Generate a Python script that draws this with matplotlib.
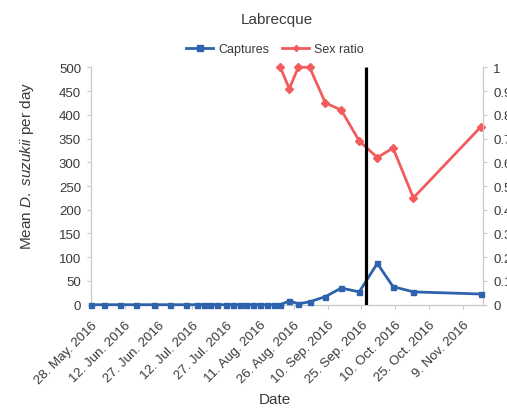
import datetime as dt
import matplotlib
matplotlib.use("Agg")
import matplotlib.pyplot as plt
import matplotlib.dates as mdates
from matplotlib.lines import Line2D

plt.rcParams['font.family'] = ['Liberation Sans', 'DejaVu Sans']
plt.rcParams['mathtext.fontset'] = 'custom'
plt.rcParams['mathtext.rm'] = 'Liberation Sans'
plt.rcParams['mathtext.it'] = 'Liberation Sans:italic'

# Sampling dates (2016)
capture_dates = [
    "2016-05-28", "2016-06-03", "2016-06-10", "2016-06-17", "2016-06-25",
    "2016-07-02", "2016-07-09", "2016-07-14", "2016-07-17", "2016-07-20",
    "2016-07-23", "2016-07-27", "2016-07-30", "2016-08-02", "2016-08-05",
    "2016-08-08", "2016-08-11", "2016-08-14", "2016-08-17", "2016-08-20",
    "2016-08-24", "2016-08-28", "2016-09-02", "2016-09-09", "2016-09-16",
    "2016-09-24", "2016-10-02", "2016-10-09", "2016-10-18", "2016-11-17",
]
# Mean D. suzukii captured per day
captures = [
    0, 0, 0, 0, 0,
    0, 0, 0, 0, 0,
    0, 0, 0, 0, 0,
    0, 0, 0, 0, 0,
    8, 2, 6, 17, 35,
    27, 87, 38, 27, 22.5,
]

ratio_dates = [
    "2016-08-20", "2016-08-24", "2016-08-28", "2016-09-02", "2016-09-09",
    "2016-09-16", "2016-09-24", "2016-10-02", "2016-10-09", "2016-10-18",
    "2016-11-17",
]
sex_ratio = [1.0, 0.91, 1.0, 1.0, 0.85, 0.82, 0.69, 0.62, 0.66, 0.45, 0.75]

tick_dates = [
    "2016-05-28", "2016-06-12", "2016-06-27", "2016-07-12", "2016-07-27",
    "2016-08-11", "2016-08-26", "2016-09-10", "2016-09-25", "2016-10-10",
    "2016-10-25", "2016-11-09",
]
tick_labels = [
    "28. May. 2016", "12. Jun. 2016", "27. Jun. 2016", "12. Jul. 2016",
    "27. Jul. 2016", "11. Aug. 2016", "26. Aug. 2016", "10. Sep. 2016",
    "25. Sep. 2016", "10. Oct. 2016", "25. Oct. 2016", "9. Nov. 2016",
]
event_date = "2016-09-27"
x_range = ["2016-05-28", "2016-11-18"]


def to_num(ds):
    return [mdates.date2num(dt.datetime.strptime(d, "%Y-%m-%d")) for d in ds]


BLUE = "#2f62ad"
RED = "#f25c5f"
GRID = "#c8c8c8"
TXT = "#3a3a3a"

W, H = 507, 410
fig = plt.figure(figsize=(W / 100, H / 100), dpi=100)
left, right, top, bottom = 90.8, 483.3, 68.3, 305.7
ax = fig.add_axes([left / W, 1 - bottom / H, (right - left) / W, (bottom - top) / H])
ax2 = ax.twinx()

ax.plot(to_num(capture_dates), captures, color=BLUE, lw=2, marker="s",
        ms=3.6, zorder=3, clip_on=False)
ax2.plot(to_num(ratio_dates), sex_ratio, color=RED, lw=2, marker="D",
         ms=3.8, zorder=3, clip_on=False)
ev = to_num([event_date])[0]
ax.plot([ev, ev], [0, 500], color="black", lw=2.3, zorder=5, solid_capstyle="butt")
ax.set_zorder(ax2.get_zorder() + 1)
ax.patch.set_visible(False)

xr = to_num(x_range)
ax.set_xlim(xr[0], xr[1])
ax.set_ylim(0, 500)
ax2.set_ylim(0, 1)
ax.set_yticks(range(0, 501, 50))
ax2.set_yticks([i / 10 for i in range(11)])
ax2.set_yticklabels(["0", "0.1", "0.2", "0.3", "0.4", "0.5", "0.6", "0.7",
                     "0.8", "0.9", "1"])
ax.set_xticks(to_num(tick_dates))
ax.set_xticklabels(tick_labels, rotation=45, ha="right", va="top",
                   rotation_mode="anchor")

for a in (ax, ax2):
    for s in a.spines.values():
        s.set_color(GRID)
        s.set_linewidth(0.8)
    a.spines["top"].set_visible(False)
    a.tick_params(colors=GRID, labelcolor=TXT, labelsize=9.5, width=0.8, length=3)
ax.tick_params(axis="x", pad=7)
ax.tick_params(axis="y", pad=4)
ax2.tick_params(axis="y", pad=4)

fig.text(276.5 / W, 1 - 20 / H, "Labrecque", ha="center", va="center",
         fontsize=11, color=TXT)
fig.text(27.5 / W, 1 - 166 / H, r"Mean $\mathit{D.\ suzukii}$ per day",
         rotation=90, ha="center", va="center", fontsize=11, color=TXT)
fig.text(275 / W, 1 - 400 / H, "Date", ha="center", va="center",
         fontsize=11, color=TXT)

handles = [
    Line2D([], [], color=BLUE, lw=2, marker="s", ms=4.5),
    Line2D([], [], color=RED, lw=2, marker="D", ms=3),
]
fig.legend(handles, ["Captures", "Sex ratio"], loc="center",
           bbox_to_anchor=(275 / W, 1 - 50 / H), ncol=2, frameon=False,
           fontsize=9, handlelength=2.2, handletextpad=0.4, columnspacing=1.0,
           labelcolor=TXT)

fig.savefig("out.png", dpi=100)
